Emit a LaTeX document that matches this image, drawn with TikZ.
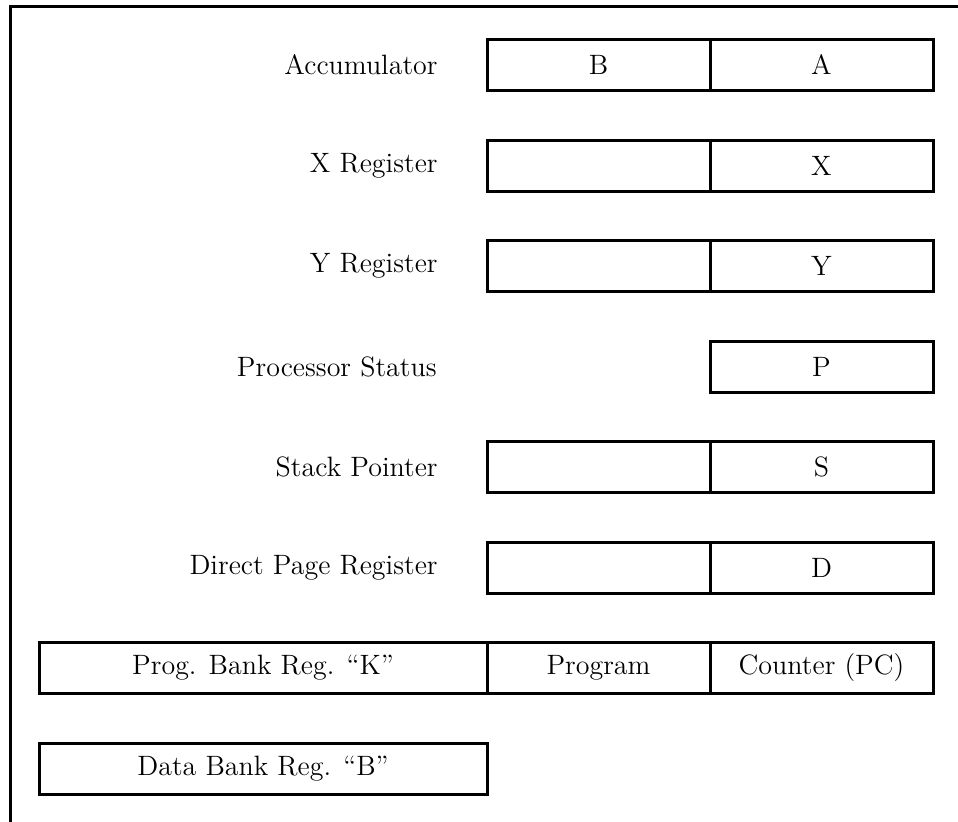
\documentclass[tikz,border=0pt]{standalone}
\usetikzlibrary{positioning}

\begin{document}
\begin{tikzpicture}[
    x=0.5pt, y=-0.5pt,
    font=\fontsize{14}{16}\selectfont,
    cell/.style={draw=black, line width=1.5pt, minimum width=111.5pt, minimum height=25.5pt, inner sep=0pt, outer sep=0pt},
    widecell/.style={cell, minimum width=224pt},
    regname/.style={inner sep=0pt},
    frame/.style={draw=black, line width=1.5pt},
]
    \useasboundingbox (0,0) rectangle (958,822);
    \clip (0,0) rectangle (958,822);

    % outer frame (runs off the page on the right and at the bottom)
    \coordinate (frame_bl) at (10,840);
    \coordinate (frame_tr) at (980,7);
    \draw[frame] (frame_bl) |- (frame_tr);

    % =====================================================================
    % 16-bit registers (high byte | low byte)
    % =====================================================================
    \node[cell] (acc_lo) at (821.5,65) {A};
    \node[cell, left=0pt of acc_lo] (acc_hi) {B};
    \node[regname, left=24.5pt of acc_hi] (acc_name) {Accumulator};

    \node[cell] (x_lo) at (821.5,166) {X};
    \node[cell, left=0pt of x_lo] (x_hi) {};
    \node[regname, left=24.5pt of x_hi] (x_name) {X Register};

    \node[cell] (y_lo) at (821.5,266) {Y};
    \node[cell, left=0pt of y_lo] (y_hi) {};
    \node[regname, left=24.5pt of y_hi] (y_name) {Y Register};

    % 8-bit status register
    \node[cell] (p_reg) at (821.5,367) {P};
    \node[regname, anchor=east] (p_name) at (437,367) {Processor Status};

    \node[cell] (s_lo) at (821.5,467) {S};
    \node[cell, left=0pt of s_lo] (s_hi) {};
    \node[regname, left=24.5pt of s_hi] (s_name) {Stack Pointer};

    \node[cell] (d_lo) at (821.5,568) {D};
    \node[cell, left=0pt of d_lo] (d_hi) {};
    \node[regname, left=24.5pt of d_hi] (d_name) {Direct Page Register};

    % =====================================================================
    % 24-bit program address and data bank
    % =====================================================================
    \node[cell] (pc_lo) at (821.5,668) {Counter (PC)};
    \node[cell, left=0pt of pc_lo] (pc_hi) {Program};
    \node[widecell, left=0pt of pc_hi] (pbr) {Prog. Bank Reg. ``K''};

    \node[widecell, below=25pt of pbr] (dbr) {Data Bank Reg. ``B''};

\end{tikzpicture}
\end{document}
